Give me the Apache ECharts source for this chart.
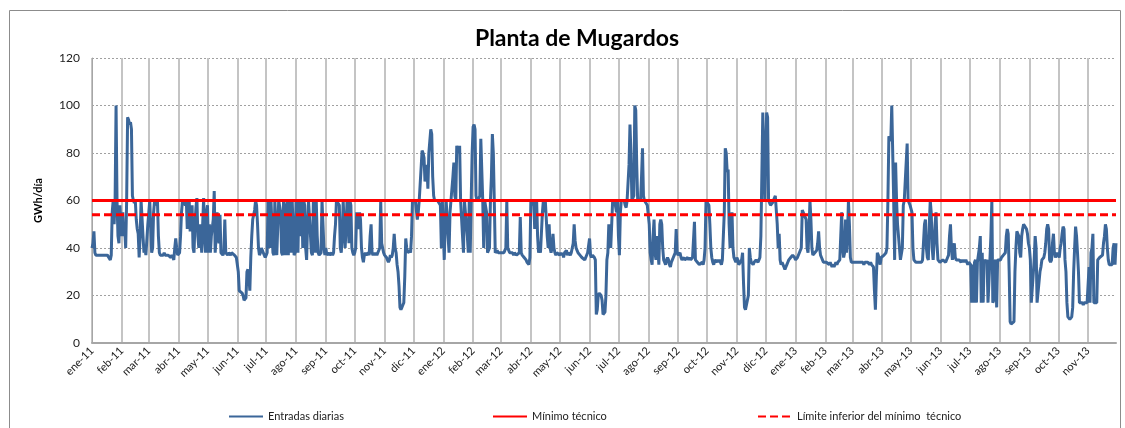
<!DOCTYPE html>
<html>
<head>
<meta charset="utf-8">
<script src="https://cdn.jsdelivr.net/npm/echarts@6/dist/echarts.min.js"></script>
<style>
html,body{margin:0;padding:0;background:#fff;}
#chart{width:1125px;height:428px;}
</style>
</head>
<body>
<div id="chart"></div>
<script>
// ---- Data: daily inputs (GWh/día), one array per month ----
const m2011_01 = [40,42,47,38,37, 37,37,37,37,37, 37,37,37,37,37, 37,37,37,37,35, 37,55,60,50,60, 100,60,45,42,58, 50];
const m2011_02 = [45,55,45,48,40, 60,95,94,92,93, 90,62,60,59,60, 52,48,46,36,45, 60,60,45,38,40, 37,37,50];
const m2011_03 = [50,60,60,38,40, 55,60,60,58,60, 45,38,37,37,37, 37,38,37,37,37, 37,37,37,36,37, 36,35,40,44,40, 37];
const m2011_04 = [37,38,45,55,60, 60,60,58,60,48, 55,60,47,52,58, 40,38,50,57,61, 45,40,50,45,38, 50,61,45,38,55];
const m2011_05 = [58,38,50,38,45, 45,52,64,38,45, 55,45,42,54,38, 38,37,38,52,38, 38,37,38,38,37, 38,38,38,37,37, 36];
const m2011_06 = [36,30,22,22,22, 21,20,18,18,19, 30,31,28,22,36, 45,52,52,56,60, 58,50,40,37,38, 40,39,38,37,36];
const m2011_07 = [37,38,60,58,40, 60,60,38,37,60, 50,37,37,60,60, 55,38,37,60,40, 37,58,60,37,60, 45,38,60,60,37, 38];
const m2011_08 = [60,60,38,60,60, 45,60,40,60,58, 40,35,50,60,60, 60,38,37,60,50, 38,60,45,38,37, 37,38,60,60,40, 37];
const m2011_09 = [40,37,37,38,37, 37,38,37,38,45, 50,60,60,60,58, 40,38,45,60,60, 40,48,60,55,42, 60,58,40,38,37];
const m2011_10 = [38,40,55,52,48, 55,52,40,36,34, 37,38,37,37,38, 37,45,50,38,37, 38,37,38,37,38, 38,40,60,42,40, 38];
const m2011_11 = [37,37,36,35,34, 35,37,36,37,40, 46,40,38,33,30, 24,15,14,15,16, 17,28,44,40,38, 38,39,38,45,60];
const m2011_12 = [60,60,60,60,52, 55,60,60,60,81, 80,78,68,70,75, 65,80,85,90,88, 70,62,60,60,60, 60,60,60,58,40, 60];
const m2012_01 = [60,35,50,60,60, 45,38,55,60,60, 70,76,62,60,83, 83,80,83,60,60, 45,38,60,60,60, 45,38,60,38,60, 80];
const m2012_02 = [91,92,90,62,60, 60,61,62,86,86, 60,40,60,60,55, 38,38,40,60,70, 88,80,60,38,38, 39,38,38,38];
const m2012_03 = [38,38,38,38,39, 40,60,40,39,38, 38,38,38,37,38, 38,37,37,37,38, 53,38,37,37,36, 36,35,34,34,33, 36];
const m2012_04 = [60,60,58,60,48, 55,60,45,38,40, 38,38,55,60,55, 60,60,45,40,50, 40,38,40,46,40, 38,37,38,38,38];
const m2012_05 = [37,38,37,38,36, 38,38,39,37,38, 38,37,38,40,42, 50,43,40,39,38, 38,37,37,36,36, 36,35,36,36,38, 38];
const m2012_06 = [44,37,36,37,37, 36,35,12,14,20, 21,21,20,18,12, 12,13,20,35,38, 50,48,40,50,60, 58,60,60,55,60];
const m2012_07 = [45,37,55,60,60, 60,60,58,57,60, 60,75,92,80,60, 60,62,100,98,75, 60,60,60,60,70, 82,62,60,60,60, 58];
const m2012_08 = [58,50,38,35,33, 45,52,38,35,45, 40,33,50,52,50, 40,35,34,33,35, 36,35,33,32,34, 35,36,37,38,48, 38];
const m2012_09 = [37,37,38,36,35, 35,36,35,35,35, 36,35,36,35,35, 36,36,51,35,35, 34,34,33,33,33, 34,33,35,40,60];
const m2012_10 = [60,60,58,50,40, 36,34,33,35,35, 34,35,34,35,34, 33,35,45,55,82, 80,72,73,50,40, 45,55,40,36,35, 34];
const m2012_11 = [36,35,33,33,33, 35,38,25,15,14, 14,14,20,40,36, 34,34,33,34,34, 35,35,34,35,36, 45,70,97,80,60];
const m2012_12 = [60,97,95,60,60, 58,58,59,60,60, 62,62,50,40,46, 35,33,34,33,32, 31,32,33,34,35, 35,36,36,37,37, 36];
const m2013_01 = [35,35,36,36,38, 38,40,56,55,54, 53,52,40,38,48, 60,52,40,37,37, 38,38,39,42,47, 40,37,36,35,34, 34];
const m2013_02 = [34,34,34,34,33, 34,33,32,33,32, 33,34,33,34,34, 35,45,55,40,36, 38,52,38,45,60, 50,36,34];
const m2013_03 = [34,34,34,34,34, 34,34,34,34,34, 34,34,33,34,34, 34,34,34,33,34, 33,33,32,22,14, 28,38,37,35,33, 36];
const m2013_04 = [36,36,37,37,38, 40,60,87,87,85, 100,100,60,35,76, 60,50,50,40,35, 35,40,58,60,60, 60,84,60,60,58];
const m2013_05 = [58,55,40,35,35, 34,34,34,34,34, 34,34,35,35,50, 52,40,36,35,50, 60,55,40,35,35, 50,55,42,35,35, 34];
const m2013_06 = [34,34,35,35,35, 34,34,36,37,45, 50,40,35,38,42, 36,35,35,35,35, 35,34,35,34,35, 34,35,34,33,34];
const m2013_07 = [34,33,17,33,17, 34,35,17,34,34, 40,45,17,38,17, 35,35,34,35,17, 17,35,45,60,17, 18,34,35,15,35, 35];
const m2013_08 = [35,35,36,36,37, 37,38,45,48,46, 30,9,8,8,8, 9,30,40,47,46, 45,38,36,45,48, 50,50,50,48,46, 42];
const m2013_09 = [40,35,17,17,17, 35,45,40,17,17, 17,30,32,35,35, 36,38,42,48,50, 48,35,34,35,42, 46,38,36,37,38];
const m2013_10 = [38,36,40,42,46, 49,48,35,30,17, 11,11,10,10,11, 15,30,40,49,45, 38,30,17,17,17, 17,16,17,17,17, 17];
const m2013_11 = [17,32,17,38,40, 46,17,17,17,17, 35,35,36,36,36, 37,42,45,50,48, 40,35,33,33,33, 33,40,42,33,42];

const monthlyData = [
  m2011_01,m2011_02,m2011_03,m2011_04,m2011_05,m2011_06,m2011_07,m2011_08,m2011_09,m2011_10,m2011_11,m2011_12,
  m2012_01,m2012_02,m2012_03,m2012_04,m2012_05,m2012_06,m2012_07,m2012_08,m2012_09,m2012_10,m2012_11,m2012_12,
  m2013_01,m2013_02,m2013_03,m2013_04,m2013_05,m2013_06,m2013_07,m2013_08,m2013_09,m2013_10,m2013_11
];
const startYear = 2011;
const monthNames = ['ene','feb','mar','abr','may','jun','jul','ago','sep','oct','nov','dic'];
const minimoTecnico = 60;
const limiteInferior = 54;

// ---- Build categories (one per day) ----
const categories = [];
const entradas = [];
monthlyData.forEach((arr, mi) => {
  const y = startYear + Math.floor(mi / 12);
  const m = mi % 12;
  const nDays = new Date(y, m + 1, 0).getDate();
  for (let d = 1; d <= nDays; d++) {
    categories.push(y + '-' + String(m + 1).padStart(2, '0') + '-' + String(d).padStart(2, '0'));
    entradas.push(arr[d - 1]);
  }
});
const serieMinimo = categories.map(() => minimoTecnico);
const serieLimite = categories.map(() => limiteInferior);

const isMonthStart = (idx) => categories[idx].slice(8) === '01';
const FONT = 'Lato, "Open Sans", sans-serif';
const legendCommon = {
  top: 406, itemWidth: 34, itemHeight: 12, itemGap: 4,
  itemStyle: {opacity: 0},
  textStyle: {fontSize: 11, color: '#222', fontFamily: FONT}
};

const chart = echarts.init(document.getElementById('chart'), null, {renderer: 'canvas'});
chart.setOption({
  animation: false,
  backgroundColor: '#fff',
  textStyle: {fontFamily: FONT},
  title: {
    text: 'Planta de Mugardos',
    left: 572,
    textAlign: 'center',
    top: 22,
    textStyle: {fontSize: 23, fontWeight: 'bold', color: '#000', fontFamily: FONT}
  },
  graphic: [{
    type: 'rect',
    shape: {x: 9.5, y: 10.5, width: 1111, height: 430},
    style: {fill: 'none', stroke: '#8c8c8c', lineWidth: 1},
    silent: true, z: -1
  }],
  legend: [
    Object.assign({data: ['Entradas diarias'], left: 223}, legendCommon),
    Object.assign({data: ['Mínimo técnico'], left: 487}, legendCommon),
    Object.assign({data: ['Límite inferior del mínimo  técnico'], left: 752}, legendCommon)
  ],
  grid: {left: 92, right: 9, top: 58, bottom: 85, containLabel: false},
  xAxis: {
    type: 'category',
    data: categories,
    boundaryGap: false,
    axisLine: {show: true, lineStyle: {color: '#a6a6a6', width: 2}},
    axisTick: {show: false},
    axisLabel: {
      interval: (idx) => isMonthStart(idx),
      rotate: 45,
      margin: 6,
      fontSize: 11,
      color: '#222',
      fontFamily: FONT,
      formatter: (v) => monthNames[parseInt(v.slice(5, 7), 10) - 1] + '-' + v.slice(2, 4)
    },
    splitLine: {show: true, interval: (idx) => isMonthStart(idx), lineStyle: {color: '#c4c4c4', width: 2}}
  },
  yAxis: {
    type: 'value',
    min: 0, max: 120, interval: 20,
    name: 'GWh/día',
    nameLocation: 'middle',
    nameRotate: 90,
    nameGap: 48,
    nameTextStyle: {fontSize: 11, fontWeight: 'bold', color: '#000', fontFamily: FONT},
    axisLine: {show: true, lineStyle: {color: '#a6a6a6', width: 1}},
    axisTick: {show: false},
    axisLabel: {fontSize: 12, color: '#222', margin: 12, fontFamily: FONT},
    splitLine: {show: true, lineStyle: {color: '#a0a0a0', width: 1, type: [2, 2]}}
  },
  series: [
    {name: 'Entradas diarias', type: 'line', data: entradas, symbol: 'none',
     lineStyle: {color: '#3b6699', width: 3}, itemStyle: {color: '#3b6699'}, z: 2},
    {name: 'Mínimo técnico', type: 'line', data: serieMinimo, symbol: 'none',
     lineStyle: {color: '#ff0000', width: 3}, itemStyle: {color: '#ff0000'}, z: 3},
    {name: 'Límite inferior del mínimo  técnico', type: 'line', data: serieLimite, symbol: 'none',
     lineStyle: {color: '#ff0000', width: 3, type: [8, 4]}, itemStyle: {color: '#ff0000'}, z: 3}
  ]
});
</script>
</body>
</html>
